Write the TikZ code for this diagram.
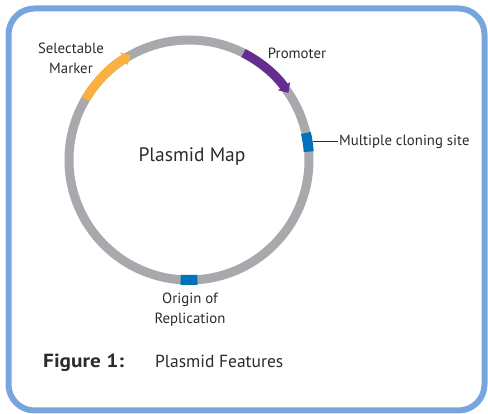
\documentclass[tikz,border=0pt]{standalone}
\usepackage{fontspec}
\setmainfont{PT Sans}
\usetikzlibrary{arrows.meta}
\definecolor{ringgrey}{HTML}{A7A9AC}
\definecolor{markerorange}{HTML}{FBB040}
\definecolor{promoterpurple}{HTML}{662D91}
\definecolor{siteblue}{HTML}{0072BC}
\definecolor{frameblue}{HTML}{78A6DC}
\definecolor{txt}{HTML}{2B2B2B}
\tikzset{
  frame/.style={draw=frameblue, line width=6pt, rounded corners=26pt},
  ring/.style={draw=ringgrey, line width=9pt},
  feat/.style={line width=9pt, -{Triangle[length=8pt,width=14pt]}},
  site/.style={draw=siteblue, line width=10pt},
  lbl/.style={text=txt, font=\fontsize{14.8}{20}\selectfont, inner sep=1pt},
  conn/.style={draw=txt, line width=0.9pt}
}
\begin{document}
\begin{tikzpicture}[x=1pt,y=1pt]
\useasboundingbox (0,0) rectangle (488,414);
\draw[frame] (8.5,3.5) rectangle (484.5,405.5);
\coordinate (c) at (189,254);
\draw[ring] (c) circle (120);
\draw[feat, draw=markerorange, fill=markerorange] ([shift={(149.5:120)}]c) arc (149.5:119:120);
\draw[feat, draw=promoterpurple, fill=promoterpurple] ([shift={(63:120)}]c) arc (63:34:120);
\draw[site] ([shift={(4:120)}]c) arc (4:13:120);
\draw[site] ([shift={(-94:120)}]c) arc (-94:-86:120);
\coordinate (mcs) at ([shift={(8.5:125)}]c);
\node[lbl, font=\fontsize{19.5}{22}\selectfont] (title) at (192,257) {Plasmid Map};
\node[lbl] (promoter) at (297,361) {Promoter};
\node[lbl, align=center] (marker) at (71,356) {Selectable\\Marker};
\node[lbl, anchor=west] (mcslabel) at (338,272) {Multiple cloning site};
\draw[conn] (mcs) -- (mcs -| mcslabel.west);
\node[lbl, align=center] (origin) at (190,104) {Origin of\\Replication};
\node[lbl, anchor=base west, font=\bfseries\fontsize{19}{22}\selectfont] (fig) at (42,46) {\scalebox{1.12}[1]{Figure 1:}};
\node[lbl, anchor=base west, font=\fontsize{17.5}{20}\selectfont] (caption) at (154,46) {Plasmid Features};
\end{tikzpicture}
\end{document}
